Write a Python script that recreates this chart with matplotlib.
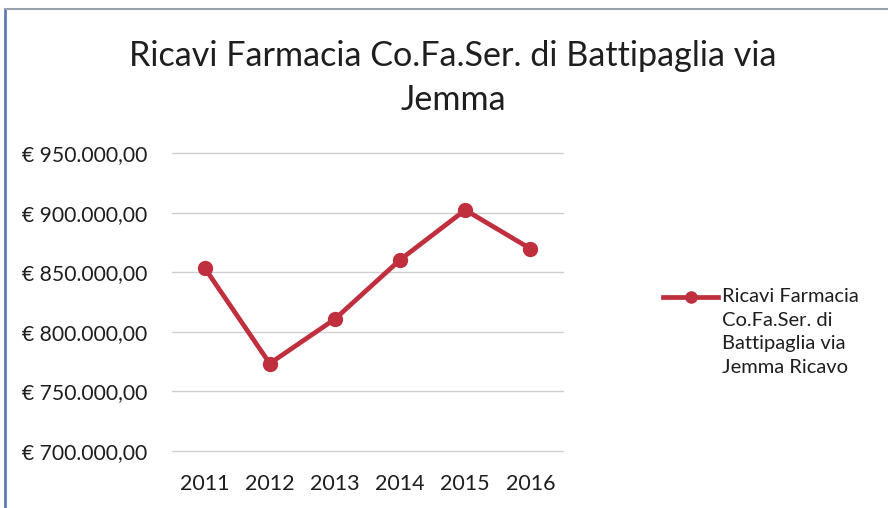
import matplotlib
matplotlib.use("Agg")
import matplotlib.pyplot as plt
from matplotlib.lines import Line2D

years = ["2011", "2012", "2013", "2014", "2015", "2016"]
ricavi = [853700, 773400, 810700, 860400, 902200, 869700]
yticks = [700000, 750000, 800000, 850000, 900000, 950000]
title = "Ricavi Farmacia Co.Fa.Ser. di Battipaglia via\nJemma"
legend_label = "Ricavi Farmacia\nCo.Fa.Ser. di\nBattipaglia via\nJemma Ricavo"

def euro(v):
    s = f"{v:,.2f}"
    s = s.replace(",", "X").replace(".", ",").replace("X", ".")
    return "€ " + s

plt.rcParams['font.family'] = ['Lato', 'DejaVu Sans']

fig = plt.figure(figsize=(8.88, 5.08), dpi=100)
W, H = 888, 508
ax = fig.add_axes([172 / W, 1 - 451 / H, (563 - 172) / W, (451 - 153) / H])

color = "#BF2F3E"
txt = "#1e1e1e"
x = list(range(len(years)))
ax.plot(x, ricavi, color=color, lw=3.4, marker="o", ms=10, zorder=3)

ax.set_xlim(-0.5, len(years) - 0.5)
ax.set_ylim(700000, 950000)
ax.set_yticks(yticks)
ax.set_yticklabels([euro(v) for v in yticks], fontsize=15.2, color=txt)
ax.set_xticks(x)
ax.set_xticklabels(years, fontsize=15.5, color=txt)
ax.grid(axis="y", color="#d0d0d0", lw=1)
for gl in ax.get_ygridlines():
    gl.set_clip_on(False)
ax.set_axisbelow(True)
for s in ax.spines.values():
    s.set_visible(False)
ax.tick_params(length=0)
ax.tick_params(axis="y", pad=17.5)
ax.tick_params(axis="x", pad=16.5)

fig.text(453 / W, 1 - 78 / H, title, ha="center", va="center", fontsize=24.6,
         color=txt, linespacing=1.45)

# legend: handle and label
fig.add_artist(Line2D([663 / W, 718 / W], [1 - 297 / H, 1 - 297 / H],
                      color=color, lw=3.4))
fig.add_artist(Line2D([690.5 / W], [1 - 297 / H], color=color, marker="o", ms=8))
fig.text(722 / W, 1 - 288 / H, legend_label, ha="left", va="top",
         fontsize=14.5, color=txt, linespacing=1.48)

# scan border lines
fig.add_artist(Line2D([5 / W, 5 / W], [0, 1 - 10 / H], color="#5b7fb5", lw=2))
fig.add_artist(Line2D([5 / W, 1], [1 - 9 / H, 1 - 9 / H], color="#9aa3ad", lw=1.5))

fig.savefig("out.png", dpi=100, facecolor="white")
